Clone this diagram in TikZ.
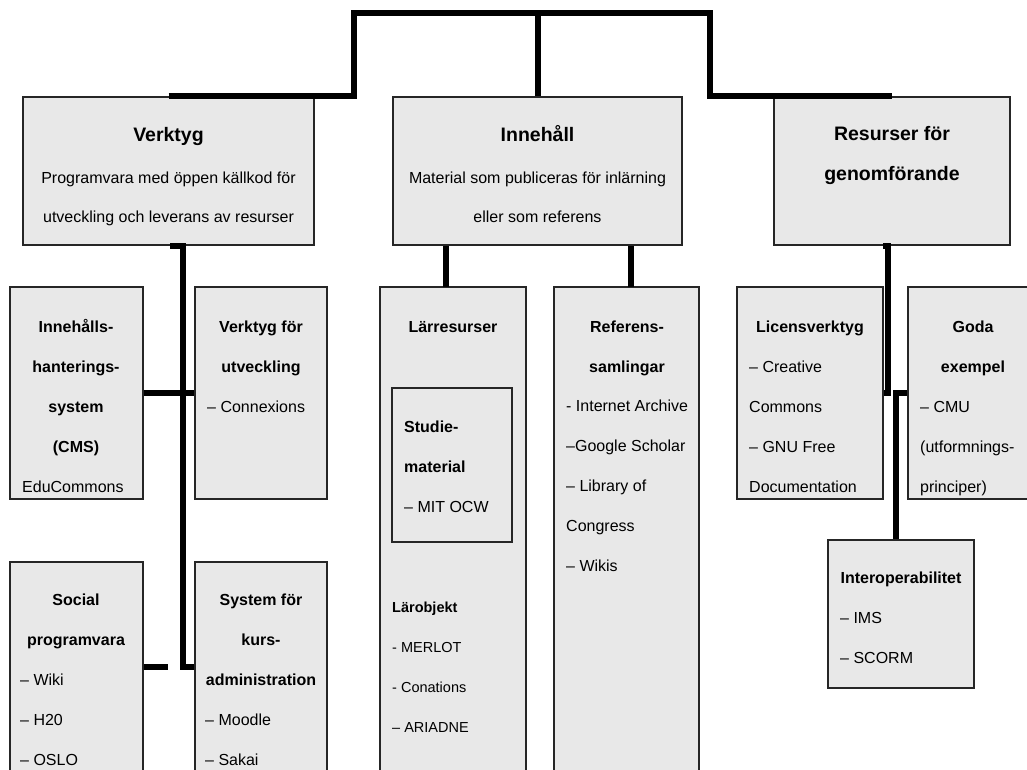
\documentclass[tikz,border=0pt]{standalone}
\usepackage{fontspec}
\setmainfont{Liberation Sans}
\usepackage{xcolor}
\usepackage{tikz}

\definecolor{boxgray}{HTML}{E8E8E8}

\tikzset{
  box/.style={draw=black!85, line width=1.5pt, fill=boxgray, inner sep=0pt},
  link/.style={line width=6pt, black},
  toptitle/.style={font=\bfseries\fontsize{19.5}{40}\selectfont, align=center, anchor=base, inner sep=0pt},
  toptext/.style={font=\fontsize{16}{39.5}\selectfont, align=center, anchor=base, inner sep=0pt},
  head/.style={font=\bfseries\fontsize{16}{40}\selectfont, align=center, anchor=base, inner sep=0pt},
  headleft/.style={font=\bfseries\fontsize{16}{40}\selectfont, align=left, anchor=base west, inner sep=0pt},
  item/.style={font=\fontsize{16}{40}\selectfont, align=left, anchor=base west, inner sep=0pt},
  smallhead/.style={font=\bfseries\fontsize{14.5}{40}\selectfont, align=left, anchor=base west, inner sep=0pt},
  smallitem/.style={font=\fontsize{14.5}{40}\selectfont, align=left, anchor=base west, inner sep=0pt}
}

\begin{document}
\begin{tikzpicture}[x=1pt, y=-1pt]
\useasboundingbox (0,0) rectangle (1027,770);
\clip (0,0) rectangle (1027,770);

% top level (multi-line texts sit on their last baseline)
\node[box, minimum width=291pt, minimum height=148pt] (verktyg) at (168.5,171) {};
\node[box, minimum width=289pt, minimum height=148pt] (innehall) at (537.5,171) {};
\node[box, minimum width=236pt, minimum height=148pt] (resurser) at (892,171) {};

\node[toptitle] (verktygtitle) at (168.5,142) {Verktyg};
\node[toptext] (verktygtext) at (168.5,222.5) {Programvara med öppen källkod för\\utveckling och leverans av resurser};
\node[toptitle] (innehalltitle) at (537.5,142) {Innehåll};
\node[toptext] (innehalltext) at (537.5,222.5) {Material som publiceras för inlärning\\eller som referens};
\node[toptitle] (resursertitle) at (892,181) {Resurser för\\genomförande};

% verktyg
\node[box, minimum width=133pt, minimum height=212pt] (cms) at (76.5,393) {};
\node[box, minimum width=132pt, minimum height=212pt] (utv) at (261,393) {};
\node[box, minimum width=133pt, minimum height=238pt] (social) at (76.5,681) {};
\node[box, minimum width=132pt, minimum height=238pt] (kursadm) at (261,681) {};

\node[head] (cmstitle) at (76,452) {Innehålls-\\hanterings-\\system\\(CMS)};
\node[item] (cmsitems) at (22,492) {EduCommons};
\node[head] (utvtitle) at (261,372) {Verktyg för\\utveckling};
\node[item] (utvitems) at (207,412) {– Connexions};
\node[head] (socialtitle) at (76,645) {Social\\programvara};
\node[item] (socialitems) at (20,765) {– Wiki\\– H20\\– OSLO};
\node[head] (kurstitle) at (261,685) {System för\\kurs-\\administration};
\node[item] (kursitems) at (205,765) {– Moodle\\– Sakai};

% innehall
\node[box, minimum width=146pt, minimum height=513pt] (larres) at (453,543.5) {};
\node[box, minimum width=120pt, minimum height=154pt] (studiemat) at (452,465) {};
\node[box, minimum width=145pt, minimum height=513pt] (referens) at (626.5,543.5) {};

\node[head] (larrestitle) at (453,332) {Lärresurser};
\node[headleft] (studietitle) at (404,472) {Studie-\\material};
\node[item] (studieitems) at (404,512) {– MIT OCW};
\node[smallhead] (larobjtitle) at (392,612) {Lärobjekt};
\node[smallitem] (larobjitems) at (392,732) {- MERLOT\\- Conations\\– ARIADNE};
\node[head] (referenstitle) at (627,372) {Referens-\\samlingar};
\node[item] (referensitems) at (566,571) {- Internet Archive\\–Google Scholar\\– Library of\\Congress\\– Wikis};

% resurser
\node[box, minimum width=146pt, minimum height=212pt] (licens) at (810,393) {};
\node[box, minimum width=130pt, minimum height=212pt] (goda) at (973,393) {};
\node[box, minimum width=146pt, minimum height=148pt] (interop) at (901,614) {};

\node[head] (licenstitle) at (810,332) {Licensverktyg};
\node[item] (licensitems) at (749,492) {– Creative\\Commons\\– GNU Free\\Documentation};
\node[head] (godatitle) at (973,372) {Goda\\exempel};
\node[item] (godaitems) at (920,492) {– CMU\\(utformnings-\\principer)};
\node[head] (interoptitle) at (901,583) {Interoperabilitet};
\node[item] (interopitems) at (840,663) {– IMS\\– SCORM};

% connectors
\coordinate (topleft) at (354,13);
\coordinate (topright) at (710,13);
\draw[link] (verktyg.north) -| (topleft) -- (topright) |- (resurser.north);
\draw[link] (innehall.north) -- (innehall.north |- topleft);

\draw[link] ([xshift=1.5pt]verktyg.south) -- ++(13,0) |- ([yshift=14pt]kursadm.west);
\draw[link] (cms.east) -- (utv.west);
\coordinate (socialstub) at (168,667);
\draw[link] (social.east |- socialstub) -- (socialstub);

\coordinate (lartop) at (446,287);
\coordinate (reftop) at (631,287);
\draw[link] (lartop) -- (lartop |- innehall.south);
\draw[link] (reftop) -- (reftop |- innehall.south);

\coordinate (rtrunk) at (888,320);
\draw[link] ([xshift=-9pt]resurser.south) -| (rtrunk) |- (licens.east);
\draw[link] (goda.west) -| ([xshift=-5pt]interop.north);
\end{tikzpicture}
\end{document}
